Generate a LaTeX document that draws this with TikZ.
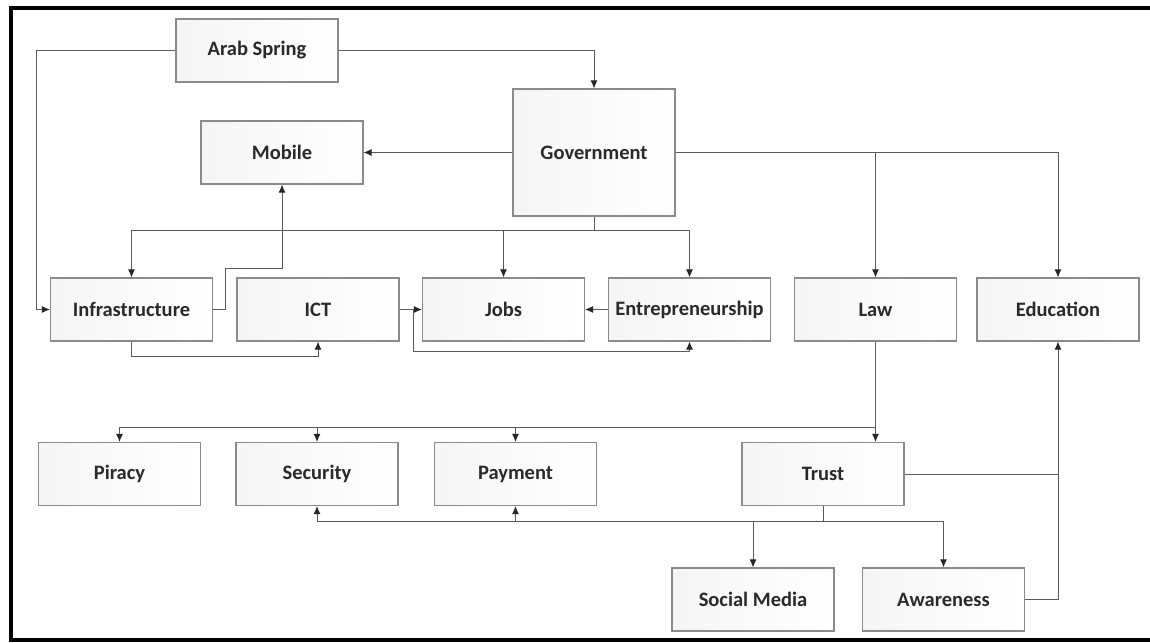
\documentclass[tikz,border=0pt]{standalone}
\usepackage{fontspec}
\setmainfont{Carlito}
\usetikzlibrary{arrows.meta}
\definecolor{edgegray}{HTML}{5A5A5A}
\definecolor{boxgray}{HTML}{8A8A8A}
\definecolor{labelgray}{HTML}{2A2A2A}
\begin{document}
\begin{tikzpicture}[x=1pt,y=-1pt,
  box/.style={draw=boxgray, line width=1.1pt, left color=black!4, right color=white,
    minimum width=162pt, minimum height=63pt, inner sep=0pt,
    font=\fontsize{20.5}{24}\selectfont\bfseries, text=labelgray},
  conn/.style={draw=edgegray, line width=1pt},
  arr/.style={conn, -{Latex[length=8pt,width=7pt,color=black!85]}},
]
\useasboundingbox (0,0) rectangle (1150,642);
\fill[white] (0,0) rectangle (1150,642);
% outer frame (top, left, bottom)
\draw[line width=4pt] (1150,8) -- (10.5,8) -- (10.5,640) -- (1150,640);

% boxes
\node[box] (arab) at (257,50.5) {Arab Spring};
\node[box] (mobile) at (282,152.5) {Mobile};
\node[box, minimum height=127pt] (gov) at (594,152.5) {Government};
\node[box] (infra) at (131.5,309.5) {Infrastructure};
\node[box] (ict) at (318,309.5) {ICT};
\node[box] (jobs) at (503.5,309.5) {Jobs};
\node[box] (entre) at (689.5,309.5) {Entrepreneurship};
\node[box] (law) at (875.5,309.5) {Law};
\node[box] (edu) at (1058,309.5) {Education};
\node[box] (piracy) at (119.5,474) {Piracy};
\node[box] (security) at (317,474) {Security};
\node[box] (payment) at (515.5,474) {Payment};
\node[box] (trust) at (823,474) {Trust};
\node[box] (social) at (753,599.5) {Social Media};
\node[box] (aware) at (943.5,599.5) {Awareness};

% bend points
\coordinate (lbus) at (36,50.5);
\coordinate (gbus) at (594,230);
\coordinate (im) at (225,268);
\coordinate (ib) at (131.5,356);
\coordinate (ij) at (413,351);
\coordinate (tbus) at (875.5,427);
\coordinate (bbus) at (823,521);

% Arab Spring
\draw[arr] (arab.west) -- (lbus) |- (infra.west);
\draw[arr] (arab.east) -| (gov.north);

% Government
\draw[arr] (gov.west) -- (mobile.east);
\draw[conn] (gov.south) -- (gbus);
\draw[arr] (gbus) -| (infra.north);
\draw[arr] (gbus) -| (jobs.north);
\draw[arr] (gbus) -| (entre.north);
\draw[arr] (gov.east) -| (edu.north);
\draw[arr] (law.north |- gov.east) -- (law.north);

% middle row links
\draw[arr] (infra.east) -| (im) -| (mobile.south);
\draw[arr] (infra.south) -- (ib) -| (ict.south);
\draw[arr] (ict.east) -- (jobs.west);
\draw[arr] (ij |- ict.east) -- (ij) -| (entre.south);
\draw[arr] (entre.west) -- (jobs.east);

% Law and Trust
\draw[arr] (law.south) -- (law.south |- trust.north);
\draw[arr] (tbus) -| (piracy.north);
\draw[arr] (tbus) -| (security.north);
\draw[arr] (tbus) -| (payment.north);
\draw[conn] (trust.east) -- (trust.east -| edu.south);
\draw[arr] (aware.east) -| (edu.south);
\draw[conn] (trust.south) -- (bbus);
\draw[arr] (bbus) -| (security.south);
\draw[arr] (bbus) -| (payment.south);
\draw[arr] (bbus) -| (social.north);
\draw[arr] (bbus) -| (aware.north);
\end{tikzpicture}
\end{document}
